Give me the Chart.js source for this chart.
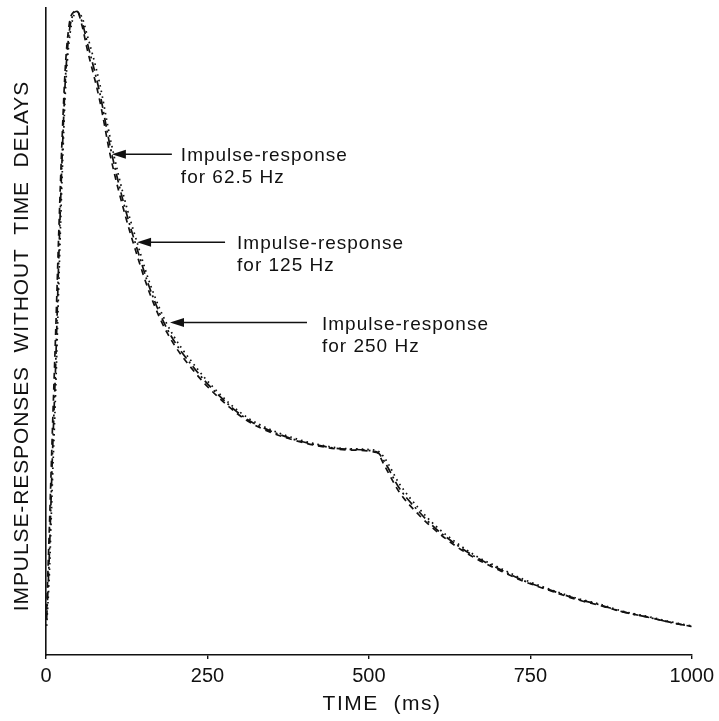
<!DOCTYPE html>
<html lang="en">
<head>
<meta charset="UTF-8">
<title>Impulse responses without time delays</title>
<script src="https://cdn.jsdelivr.net/npm/chart.js@4.4.0/dist/chart.umd.min.js"></script>
<style>
  body { margin: 0; background: #fff; }
  canvas { display: block; }
</style>
</head>
<body>
<canvas id="myChart" width="719" height="721"></canvas>
<script>
// time axis (ms) shared by the three responses
const timeMs = [1, 5, 10, 15, 20, 25, 30, 36, 42, 48, 56, 63, 83, 100, 122, 141, 161, 187, 233, 284,
                315, 351, 388, 428, 465, 512, 524, 547, 578, 604, 635, 666, 702, 737, 779, 821, 856, 892, 934, 969, 1000];

// responses, arbitrary units (0-100)
const resp62 = [4.5, 12, 27, 41, 58, 74, 87, 95, 98.5, 99.4, 98.5, 96.1, 88.4, 79.6, 70.3, 63.8, 57.4, 51.2, 44.4, 38.9,
                36.5, 34.7, 33.4, 32.4, 31.9, 31.6, 30.5, 26.5, 22.6, 19.9, 17.4, 15.3, 13.5, 11.8, 10.2, 8.8, 7.9, 6.8, 5.9, 5.1, 4.5];
const resp125 = [7, 19, 35, 50, 66, 80, 91, 97.5, 99.3, 99.5, 97.2, 94, 85.8, 77, 68.2, 61.8, 55.8, 49.9, 43.4, 38.3,
                 36, 34.3, 33.1, 32.2, 31.7, 31.3, 29.3, 25.2, 21.6, 19.2, 16.8, 14.9, 13.1, 11.5, 10, 8.6, 7.7, 6.7, 5.8, 5, 4.4];
const resp250 = [5.5, 15, 31, 45, 62, 77, 89, 96.3, 99, 99.5, 97.8, 95, 87, 78.3, 69.2, 62.8, 56.6, 50.5, 43.9, 38.6,
                 36.2, 34.5, 33.2, 32.3, 31.8, 31.4, 29.9, 25.8, 22.1, 19.5, 17.1, 15.1, 13.3, 11.6, 10.1, 8.7, 7.8, 6.7, 5.8, 5, 4.4];

const xTicks = [0, 250, 500, 750, 1000];

// arrow labels and where they point on the curve
const arrowLabels = [['Impulse-response', 'for 62.5 Hz'], ['Impulse-response', 'for 125 Hz'], ['Impulse-response', 'for 250 Hz']];
const arrowTime = [102, 141, 192];
const arrowValue = [77.4, 63.8, 51.4];

const xTitle = 'TIME  (ms)';
const yTitle = 'IMPULSE-RESPONSES  WITHOUT  TIME  DELAYS';

const FONT = '"Liberation Sans", Arial, Helvetica, sans-serif';
const INK = '#111';

function pts(values) {
    return timeMs.map((t, i) => ({x: t, y: values[i]}));
}

const annotate = {
    id: 'annotate',
    afterDraw(chart) {
        const ctx = chart.ctx;
        const x = chart.scales.x, y = chart.scales.y;
        const tails = [60, 88, 137];
        const textGap = [69, 100, 152];
        ctx.save();
        ctx.fillStyle = INK;
        ctx.strokeStyle = INK;
        arrowTime.forEach((t, i) => {
            const px = x.getPixelForValue(t);
            const py = y.getPixelForValue(arrowValue[i]);
            ctx.lineWidth = 1.6;
            ctx.beginPath();
            ctx.moveTo(px + 10, py);
            ctx.lineTo(px + tails[i], py);
            ctx.stroke();
            ctx.beginPath();
            ctx.moveTo(px, py);
            ctx.lineTo(px + 14, py - 4.5);
            ctx.lineTo(px + 14, py + 4.5);
            ctx.closePath();
            ctx.fill();

            ctx.font = '19px ' + FONT;
            ctx.letterSpacing = '1px';
            ctx.textAlign = 'left';
            ctx.textBaseline = 'middle';
            ctx.fillText(arrowLabels[i][0], px + textGap[i], py + 2);
            ctx.fillText(arrowLabels[i][1], px + textGap[i], py + 24);
        });

        // axis titles
        ctx.font = '21px ' + FONT;
        ctx.letterSpacing = '1.5px';
        ctx.textAlign = 'center';
        ctx.textBaseline = 'middle';
        ctx.fillText(xTitle, 382, 704);

        ctx.letterSpacing = '0.9px';
        ctx.translate(22, 346);
        ctx.rotate(-Math.PI / 2);
        ctx.fillText(yTitle, 0, 0);
        ctx.restore();
    }
};

const myChart = new Chart(document.getElementById('myChart').getContext('2d'), {
    type: 'line',
    data: {
        datasets: [
            {label: '62.5 Hz', data: pts(resp62), borderDash: [1.6, 4]},
            {label: '125 Hz', data: pts(resp125), borderDash: [6, 5]},
            {label: '250 Hz', data: pts(resp250), borderDash: [9, 4, 2, 4]}
        ].map(d => Object.assign(d, {
            borderColor: INK,
            borderWidth: 1.7,
            pointRadius: 0,
            fill: false,
            cubicInterpolationMode: 'monotone'
        }))
    },
    options: {
        responsive: false,
        animation: false,
        layout: {padding: {top: 8, right: 26, left: 0, bottom: 0}},
        plugins: {
            legend: {display: false},
            tooltip: {enabled: false}
        },
        scales: {
            x: {
                type: 'linear',
                min: 0,
                max: 1000,
                afterBuildTicks: s => { s.ticks = xTicks.map(v => ({value: v})); },
                afterFit: s => { s.height = 66; },
                border: {color: INK, width: 1.6},
                grid: {drawOnChartArea: false, color: INK, tickLength: 4, lineWidth: 1.4},
                ticks: {
                    color: INK,
                    font: {family: FONT, size: 20},
                    padding: 5,
                    maxRotation: 0,
                    callback: v => String(v)
                }
            },
            y: {
                min: 0,
                max: 100,
                afterFit: s => { s.width = 46; },
                border: {color: INK, width: 1.6},
                grid: {display: false},
                ticks: {display: false}
            }
        }
    },
    plugins: [annotate]
});
</script>
</body>
</html>
